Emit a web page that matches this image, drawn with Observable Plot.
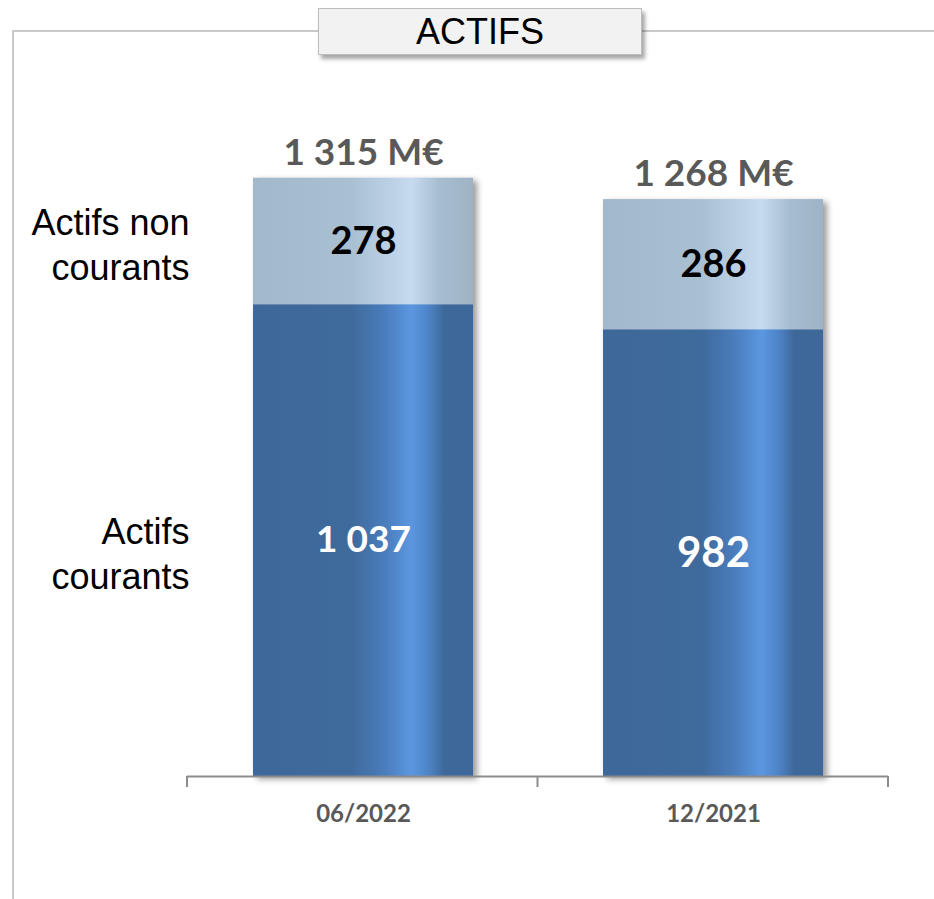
<!DOCTYPE html>
<html><head><meta charset="utf-8">
<script src="https://cdn.jsdelivr.net/npm/d3@7"></script>
<script src="https://cdn.jsdelivr.net/npm/@observablehq/plot@0.6"></script>
<style>
body{margin:0;background:#fff;}
#wrap{position:relative;width:934px;height:899px;overflow:hidden;}
#frame{position:absolute;left:12px;top:30px;right:-10px;bottom:-10px;border-top:2px solid #c9c9c9;border-left:2px solid #c9c9c9;}
#title{position:absolute;left:318px;top:8px;width:322px;height:45px;background:#f2f2f2;border:1.5px solid #bdbdbd;box-shadow:3px 4px 4px rgba(0,0,0,0.35);font-family:"Liberation Sans",Arial,sans-serif;font-size:36px;display:flex;align-items:center;justify-content:center;color:#000;z-index:2;}
#chart{position:absolute;left:0;top:0;}
#chart svg{overflow:visible;}
</style></head>
<body>
<svg width="0" height="0" style="position:absolute">
<defs>
<linearGradient id="gDark" x1="0" x2="1" y1="0" y2="0">
<stop offset="0" stop-color="#3e6899"/>
<stop offset="0.45" stop-color="#3f6a9c"/>
<stop offset="0.6" stop-color="#4a7dbd"/>
<stop offset="0.72" stop-color="#5b97e0"/>
<stop offset="0.8" stop-color="#4d83c6"/>
<stop offset="0.87" stop-color="#3e6899"/>
<stop offset="1" stop-color="#3e6899"/>
</linearGradient>
<linearGradient id="gLight" x1="0" x2="1" y1="0" y2="0">
<stop offset="0" stop-color="#a2b9cc"/>
<stop offset="0.45" stop-color="#a9c0d3"/>
<stop offset="0.72" stop-color="#c6daf0"/>
<stop offset="0.85" stop-color="#a6bdd0"/>
<stop offset="1" stop-color="#9eb4c5"/>
</linearGradient>
</defs>
</svg>
<div id="wrap"><div id="frame"></div><div id="chart"></div><div id="title">ACTIFS</div></div>
<script>
const periods = ["06/2022", "12/2021"];
const actifsCourants = [1037, 982];
const actifsNonCourants = [278, 286];
const totals = [1315, 1268];
const seriesLabels = ["Actifs\ncourants", "Actifs non\ncourants"];

const fmt = d3.formatLocale({thousands: " ", grouping: [3], decimal: ","}).format(",d");
const rows = periods.map((p, i) => ({
  period: p, courants: actifsCourants[i], non: actifsNonCourants[i], total: totals[i]
}));
const valueFont = "Lato, 'Open Sans', sans-serif";
const labelStyle = {frameAnchor: "left", textAnchor: "end", dx: 2, lineHeight: 1.25, fontSize: 36, fill: "#000", fontFamily: "'Liberation Sans', Arial, sans-serif"};

function bandTicks(index, scales, values, dimensions) {
  const {width, marginLeft, marginRight} = dimensions;
  const n = periods.length;
  const l = marginLeft, r = width - marginRight;
  const xs = d3.range(n + 1).map(i => l + i * (r - l) / n);
  const y0 = scales.y(0);
  const g = d3.create("svg:g");
  g.selectAll("line").data(xs).join("line")
    .attr("x1", d => d).attr("x2", d => d)
    .attr("y1", y0).attr("y2", y0 + 11)
    .attr("stroke", "#8c8c8c").attr("stroke-width", 2);
  return g.node();
}

const chart = Plot.plot({
  width: 934, height: 899,
  marginLeft: 187, marginRight: 46, marginTop: 48, marginBottom: 123,
  style: {background: "transparent", overflow: "visible"},
  x: {domain: periods, paddingInner: 0.372, paddingOuter: 0.186, label: null},
  y: {domain: [0, 1600], axis: null},
  marks: [
    Plot.barY(rows, {x: "period", y1: 0, y2: "total", fill: "#ffffff", className: "shadowbar"}),
    Plot.barY(rows, {x: "period", y1: 0, y2: "courants", fill: "url(#gDark)"}),
    Plot.barY(rows, {x: "period", y1: "courants", y2: d => d.courants + d.non, fill: "url(#gLight)"}),
    Plot.ruleY([0], {stroke: "#8c8c8c", strokeWidth: 2}),
    bandTicks,
    Plot.axisX({tickSize: 0, tickPadding: 28, fontSize: 24, fontWeight: "bold", color: "#595959", fontFamily: valueFont, label: null}),
    Plot.text(rows, {x: "period", y: "total", text: d => fmt(d.total) + " M€", dy: -25, fontSize: 37, fontWeight: "bold", fill: "#595959", fontFamily: valueFont}),
    Plot.text(rows, {x: "period", y: d => d.courants + d.non / 2, text: d => fmt(d.non), fontSize: 38, fontWeight: "bold", fill: "#000", fontFamily: valueFont}),
    Plot.text(rows, {x: "period", y: d => d.courants / 2, text: d => fmt(d.courants), fontSize: d => d.courants < 1000 ? 42 : 37, fontWeight: "bold", fill: "#fff", fontFamily: valueFont}),
    Plot.text([{label: seriesLabels[0], y: rows[0].courants / 2}], {y: "y", text: "label", dy: 12, ...labelStyle}),
    Plot.text([{label: seriesLabels[1], y: rows[0].courants + rows[0].non / 2}], {y: "y", text: "label", dy: 2, ...labelStyle})
  ]
});
chart.querySelectorAll("g.shadowbar, g[class*='shadowbar']").forEach(g => {
  g.style.filter = "drop-shadow(4px 3px 3px rgba(0,0,0,0.4))";
});
document.getElementById("chart").appendChild(chart);
</script>
</body></html>
